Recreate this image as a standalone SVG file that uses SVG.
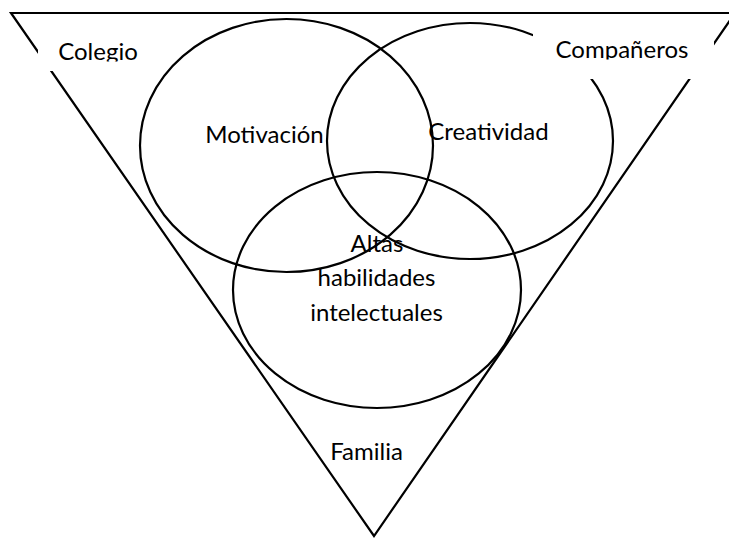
<svg xmlns="http://www.w3.org/2000/svg" width="729" height="539" viewBox="0 0 729 539">
<style>
.ln{fill:none;stroke:#000;stroke-width:2.2}
.lbl{font-family:Lato,"Open Sans","Liberation Sans",sans-serif;font-size:24px;fill:#000;text-anchor:middle}
.box{fill:#fff;stroke:none}
</style>
<defs>
<clipPath id="clipColegio"><rect x="38" y="25" width="112" height="36.5"/></clipPath>
<clipPath id="clipComp"><rect x="533" y="25" width="181" height="34.5"/></clipPath>
</defs>
<rect width="729" height="539" fill="#fff"/>
<g id="familia">
<polygon class="ln" points="11,13 735,13 374,536"/>
<text class="lbl" x="366.5" y="460">Familia</text>
</g>
<g id="motivacion">
<ellipse class="ln" cx="286.5" cy="145.5" rx="146.5" ry="126.5"/>
<text class="lbl" x="264.5" y="143">Motivación</text>
</g>
<g id="creatividad">
<ellipse class="ln" cx="470" cy="141" rx="143" ry="118"/>
<text class="lbl" x="488.5" y="140">Creatividad</text>
</g>
<g id="altas-habilidades">
<ellipse class="ln" cx="377" cy="290" rx="144" ry="118"/>
<text class="lbl" x="377" y="252">Altas</text>
<text class="lbl" x="376.5" y="286">habilidades</text>
<text class="lbl" x="376.5" y="321">intelectuales</text>
</g>
<g id="colegio">
<rect class="box" x="38" y="25" width="112" height="46"/>
<text class="lbl" x="98" y="60" clip-path="url(#clipColegio)">Colegio</text>
</g>
<g id="companeros">
<rect class="box" x="533" y="25" width="181" height="54"/>
<text class="lbl" x="622" y="58" clip-path="url(#clipComp)">Compañeros</text>
</g>
<g id="connectors"/>
</svg>
